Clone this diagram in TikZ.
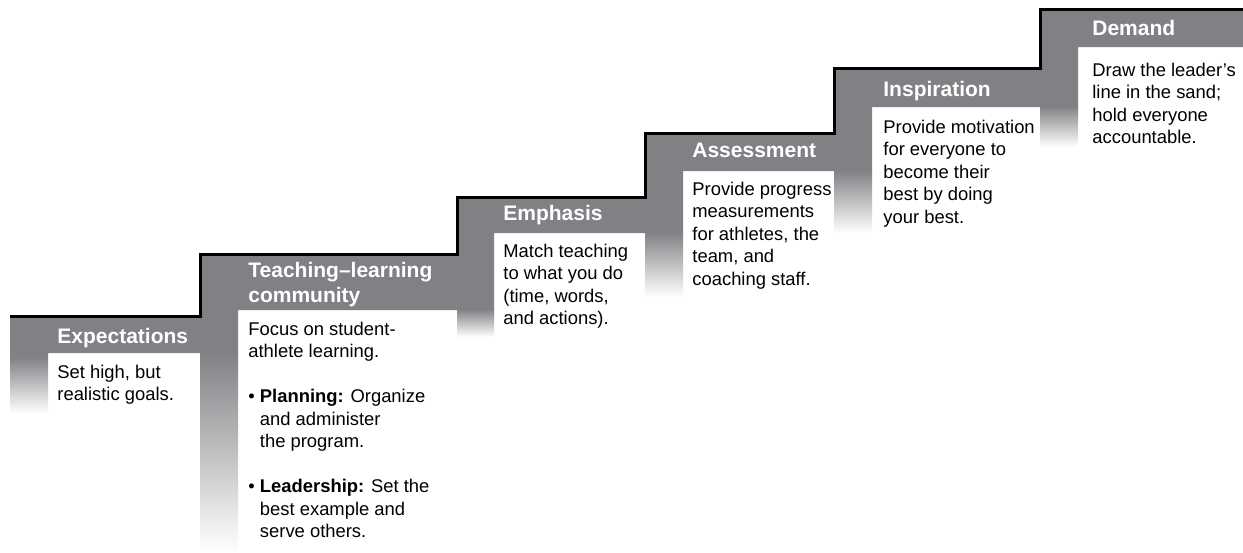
\documentclass[tikz,border=0pt]{standalone}
\usepackage{fontspec}
\setmainfont{Liberation Sans}
\usetikzlibrary{positioning}
\definecolor{stepgray}{RGB}{128,129,132}

\begin{document}
\begin{tikzpicture}[
      x=0.5pt, y=-0.5pt,
      every node/.style={inner sep=0pt, anchor=base west, align=left},
      band/.style={fill=stepgray},
      fadestrip/.style={top color=stepgray, bottom color=white},
      stairline/.style={line width=1.5pt, black},
      stephead/.style={text=white, font=\fontsize{10.5pt}{12.5pt}\selectfont\bfseries},
      steptext/.style={font=\fontsize{9.2pt}{11.25pt}\selectfont}
    ]
      \useasboundingbox (0,0) rectangle (1243,552);

      % Step 1: Expectations
      \fill[band] (10,316) rectangle (200,353) (10,352) rectangle (48,358);
      \shade[fadestrip] (10,357) rectangle (48,413);

      % Step 2: Teaching-learning community
      \fill[band] (200,254) rectangle (457,310) (200,309) rectangle (238,353);
      \shade[fadestrip] (200,352) rectangle (238,552);

      % Step 3: Emphasis
      \fill[band] (457,197) rectangle (645,233) (457,232) rectangle (494,310);
      \shade[fadestrip] (457,309) rectangle (494,337);

      % Step 4: Assessment
      \fill[band] (645,133) rectangle (834,171) (645,170) rectangle (683,233);
      \shade[fadestrip] (645,232) rectangle (683,297);

      % Step 5: Inspiration
      \fill[band] (834,68) rectangle (1040,107) (834,106) rectangle (872,171);
      \shade[fadestrip] (834,170) rectangle (872,233);

      % Step 6: Demand
      \fill[band] (1040,9) rectangle (1243,47) (1040,46) rectangle (1078,107);
      \shade[fadestrip] (1040,106) rectangle (1078,147);

      % Stair edge
      \draw[stairline] (10,316) -- (200,316) -- (200,254) -- (457,254) -- (457,197)
        -- (645,197) -- (645,133) -- (834,133) -- (834,68) -- (1040,68) -- (1040,9) -- (1243,9);

      % Headings (placed at the baseline of their last line)
      \node (exphead) [stephead] at (57,343) {Expectations};
      \node (teachhead) [stephead] at (248,302) {Teaching–learning\\community};
      \node (emphhead) [stephead] at (503,220) {Emphasis};
      \node (assesshead) [stephead] at (692,157) {Assessment};
      \node (insphead) [stephead] at (883,96) {Inspiration};
      \node (demandhead) [stephead] at (1092,35) {Demand};

      % Step texts (placed at the baseline of their last line)
      \node (expbody) [steptext] at (57,400.5) {Set high, but\\realistic goals.};
      \node (teachbody) [steptext] at (248,537.5) {%
        Focus on student-\\
        athlete learning.\\[11.25pt]
        • \textbf{Planning:} Organize\\
        \hphantom{• }and administer\\
        \hphantom{• }the program.\\[11.25pt]
        • \textbf{Leadership:} Set the\\
        \hphantom{• }best example and\\
        \hphantom{• }serve others.
      };
      \node (emphbody) [steptext] at (503,324.5) {%
        Match teaching\\to what you do\\(time, words,\\and actions).
      };
      \node (assessbody) [steptext] at (692,285) {%
        Provide progress\\measurements\\for athletes, the\\team, and\\coaching staff.
      };
      \node (inspbody) [steptext] at (883,223) {%
        Provide motivation\\for everyone to\\become their\\best by doing\\your best.
      };
      \node (demandbody) [steptext] at (1092,143.5) {%
        Draw the leader’s\\line in the sand;\\hold everyone\\accountable.
      };
    \end{tikzpicture}
\end{document}
